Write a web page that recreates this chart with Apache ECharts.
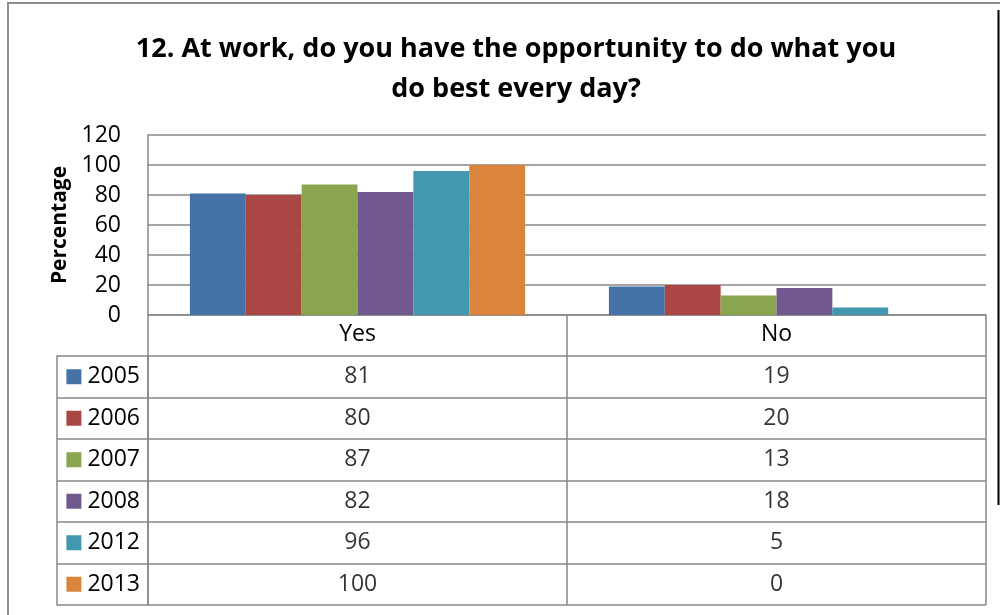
<!DOCTYPE html>
<html>
<head>
<meta charset="utf-8">
<script src="https://cdn.jsdelivr.net/npm/echarts@6/dist/echarts.min.js"></script>
<style>
html,body{margin:0;padding:0;background:#fff;}
#c{width:1000px;height:615px;}
</style>
</head>
<body>
<div id="c"></div>
<script>
const titleText = '12. At work, do you have the opportunity to do what you\ndo best every day?';
const categories = ['Yes', 'No'];
const years = ['2005', '2006', '2007', '2008', '2012', '2013'];
const yesValues = [81, 80, 87, 82, 96, 100];
const noValues = [19, 20, 13, 18, 5, 0];
const colors = ['#4572A7', '#AA4643', '#89A54E', '#71588F', '#4198AF', '#DB843D'];
const yTicks = { min: 0, max: 120, interval: 20 };

const FONT = 'Open Sans';
const GRID_C = '#888888';

const chart = echarts.init(document.getElementById('c'), null, { renderer: 'canvas' });

const barSeries = years.map((y, i) => ({
  name: y,
  type: 'bar',
  xAxisIndex: 0,
  yAxisIndex: 0,
  data: [yesValues[i], noValues[i]],
  itemStyle: { color: colors[i] },
  barGap: '0%',
  barCategoryGap: '20%'
}));

const tableData = [];
years.forEach((y, i) => {
  tableData.push([0, i, yesValues[i]]);
  tableData.push([1, i, noValues[i]]);
});

const rich = { g: { width: 6 }, t: { fontSize: 23, fontFamily: FONT, color: '#000' } };
colors.forEach((c, i) => { rich['s' + i] = { width: 15, height: 15, backgroundColor: c }; });

chart.setOption({
  animation: false,
  backgroundColor: '#fff',
  textStyle: { fontFamily: FONT },
  title: {
    text: titleText,
    left: 511,
    top: 24,
    textAlign: 'center',
    textStyle: { fontFamily: FONT, fontWeight: 'bold', fontSize: 27, lineHeight: 40, color: '#000' }
  },
  grid: [
    { left: 148, top: 135, width: 838, height: 180, containLabel: false },
    { left: 148, top: 356, width: 838, height: 249, containLabel: false }
  ],
  xAxis: [
    {
      type: 'category', gridIndex: 0, data: categories,
      axisLine: { show: true, lineStyle: { color: GRID_C, width: 1.5 } },
      axisTick: { show: true, length: 290, lineStyle: { color: GRID_C, width: 1.5 } },
      axisLabel: { fontFamily: FONT, fontSize: 23, color: '#000', margin: 8 }
    },
    {
      type: 'category', gridIndex: 1, data: categories,
      axisLine: { show: false }, axisTick: { show: false }, axisLabel: { show: false }, splitLine: { show: false }
    }
  ],
  yAxis: [
    {
      type: 'value', gridIndex: 0, min: yTicks.min, max: yTicks.max, interval: yTicks.interval,
      name: 'Percentage', nameLocation: 'middle', nameGap: 76, nameRotate: 90,
      nameTextStyle: { fontFamily: FONT, fontWeight: 'bold', fontSize: 21, color: '#000' },
      axisLine: { show: true, lineStyle: { color: GRID_C, width: 1.5 } },
      axisTick: { show: false },
      axisLabel: { fontFamily: FONT, fontSize: 23, color: '#000', margin: 27 },
      splitLine: { show: true, lineStyle: { color: GRID_C, width: 1.5 } }
    },
    {
      type: 'category', gridIndex: 1, data: years, inverse: true,
      axisLine: { show: true, lineStyle: { color: GRID_C, width: 1.5 } },
      axisTick: { show: true, length: 91, lineStyle: { color: GRID_C, width: 1.5 } },
      splitLine: { show: true, lineStyle: { color: GRID_C, width: 1.5 } },
      axisLabel: {
        margin: 8,
        formatter: (v, i) => '{s' + i + '|}{g| }{t|' + v + '}',
        rich: rich
      }
    },
    {
      type: 'category', gridIndex: 1, data: years, inverse: true, position: 'left', offset: 91,
      axisLine: { show: true, lineStyle: { color: GRID_C, width: 1.5 } },
      axisTick: { show: false }, axisLabel: { show: false }, splitLine: { show: false }
    }
  ],
  series: barSeries.concat([{
    type: 'scatter',
    xAxisIndex: 1,
    yAxisIndex: 1,
    data: tableData,
    symbolSize: 1,
    itemStyle: { color: 'rgba(0,0,0,0)' },
    label: {
      show: true, position: 'inside',
      formatter: p => String(p.value[2]),
      fontFamily: FONT, fontSize: 23, color: '#000'
    },
    silent: true
  }]),
  graphic: [
    { type: 'rect', shape: { x: 8, y: 3, width: 1000, height: 700 }, style: { fill: 'none', stroke: '#8c8c8c', lineWidth: 2 }, silent: true },
    { type: 'line', shape: { x1: 998.5, y1: 10, x2: 998.5, y2: 505 }, style: { stroke: '#000', lineWidth: 2 }, silent: true }
  ]
});
</script>
</body>
</html>
